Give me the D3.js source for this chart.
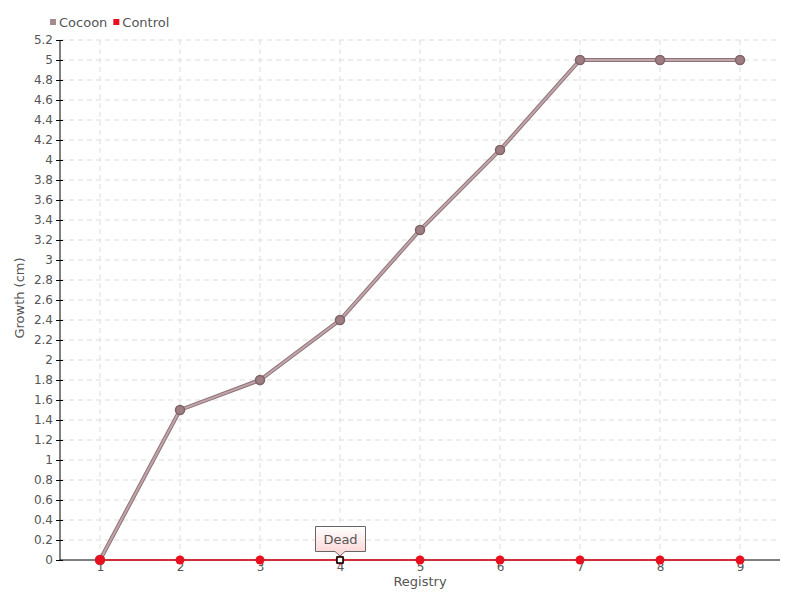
<!DOCTYPE html>
<meta charset="utf-8">
<script src="https://cdn.jsdelivr.net/npm/d3@7"></script>
<style>
body { margin: 0; background: #fff; }
svg { display: block; font-family: "DejaVu Sans", sans-serif; }
.grid line { stroke: #ddd; stroke-dasharray: 5,4; }
.axis text { fill: #555; font-size: 12px; font-family: "DejaVu Sans", sans-serif; }
.axis path, .axis line { stroke: #000; }
</style>
<body>
<div class="chart"></div>
<script>

// data
var registry = [1, 2, 3, 4, 5, 6, 7, 8, 9];
var cocoon = [0, 1.5, 1.8, 2.4, 3.3, 4.1, 5, 5, 5];
var control = [0, 0, 0, 0, 0, 0, 0, 0, 0];
var yTicks = d3.range(0, 27).map(function(i) { return +(i * 0.2).toFixed(1); });
var seriesNames = ["Cocoon", "Control"];
var seriesColors = ["#a58a8f", "#e8101f"];
var deadIndex = 3;

var width = 800, height = 600;
var margin = {top: 40, right: 20, bottom: 40, left: 60};

var svg = d3.select(".chart").append("svg")
    .attr("width", width)
    .attr("height", height);

var x = d3.scaleLinear().domain([0.5, 9.5]).range([margin.left, width - margin.right]);
var y = d3.scaleLinear().domain([0, 5.2]).range([height - margin.bottom, margin.top]);

// grid
var grid = svg.append("g").attr("class", "grid");
grid.selectAll(".hg").data(yTicks.slice(1)).enter().append("line")
    .attr("x1", margin.left).attr("x2", width - margin.right)
    .attr("y1", function(d) { return y(d); }).attr("y2", function(d) { return y(d); });
grid.selectAll(".vg").data(registry).enter().append("line")
    .attr("x1", function(d) { return x(d); }).attr("x2", function(d) { return x(d); })
    .attr("y1", y(5.2)).attr("y2", y(0));

// axes
var yAxis = svg.append("g").attr("class", "axis")
    .attr("transform", "translate(" + margin.left + ",0)")
    .call(d3.axisLeft(y).tickValues(yTicks).tickSize(4).tickPadding(3).tickFormat(function(d) { return d3.format("~g")(d); }));
yAxis.select(".domain").attr("d", "M0," + y(5.2) + "V" + y(0));
yAxis.selectAll(".tick line").attr("x1", -4).attr("x2", 3);

var xAxis = svg.append("g").attr("class", "axis")
    .attr("transform", "translate(0," + y(0) + ")")
    .call(d3.axisBottom(x).tickValues(registry).tickSize(4).tickPadding(-6));
xAxis.select(".domain").attr("d", "M" + margin.left + ",0H" + (width - margin.right));
xAxis.selectAll(".tick text").attr("dy", "0.71em").attr("y", 2);

// axis titles
svg.append("text")
    .attr("x", 420).attr("y", 586)
    .attr("text-anchor", "middle")
    .attr("fill", "#555").attr("font-size", 13)
    .text("Registry");

svg.append("text")
    .attr("transform", "translate(24," + 298 + ") rotate(-90)")
    .attr("text-anchor", "middle")
    .attr("fill", "#555").attr("font-size", 13)
    .text("Growth (cm)");

// lines
var line = d3.line()
    .x(function(d, i) { return x(registry[i]); })
    .y(function(d) { return y(d); });

svg.append("path").datum(cocoon)
    .attr("fill", "none").attr("stroke", "#8f7378").attr("stroke-width", 4)
    .attr("d", line);
svg.append("path").datum(cocoon)
    .attr("fill", "none").attr("stroke", "#c0a5aa").attr("stroke-width", 2)
    .attr("d", line);

svg.append("path").datum(control)
    .attr("fill", "none").attr("stroke", seriesColors[1]).attr("stroke-width", 1.5)
    .attr("d", line);

// points
svg.selectAll(".pc").data(cocoon).enter().append("circle")
    .attr("cx", function(d, i) { return x(registry[i]); })
    .attr("cy", function(d) { return y(d); })
    .attr("r", 4.5)
    .attr("fill", "#9e7e83").attr("stroke", "#7d6267").attr("stroke-width", 1.5);

svg.selectAll(".pr").data(control).enter().append("circle")
    .attr("cx", function(d, i) { return x(registry[i]); })
    .attr("cy", function(d) { return y(d); })
    .attr("r", function(d, i) { return i === 0 ? 5 : 4.5; })
    .attr("fill", seriesColors[1]);

// dead marker + tooltip
var dx = x(registry[deadIndex]), dy = y(control[deadIndex]);
svg.append("rect")
    .attr("x", dx - 3).attr("y", dy - 3).attr("width", 6).attr("height", 6)
    .attr("fill", "#fff").attr("stroke", "#000").attr("stroke-width", 1.5);

var defs = svg.append("defs");
var grad = defs.append("linearGradient").attr("id", "tipgrad")
    .attr("x1", 0).attr("y1", 0).attr("x2", 0).attr("y2", 1);
grad.append("stop").attr("offset", "0%").attr("stop-color", "#ffffff");
grad.append("stop").attr("offset", "100%").attr("stop-color", "#fcd2d2");

var tl = dx - 24.5, tr = dx + 25.5, tt = 526.5, tb = 551.5;
svg.append("path")
    .attr("d", "M" + tl + "," + tt + "H" + tr + "V" + tb + "H" + (dx + 5) + "L" + dx + "," + (dy - 4) + "L" + (dx - 5) + "," + tb + "H" + tl + "Z")
    .attr("fill", "url(#tipgrad)").attr("stroke", "#666").attr("stroke-width", 1);
svg.append("text")
    .attr("x", dx + 0.5).attr("y", 544)
    .attr("text-anchor", "middle")
    .attr("fill", "#555").attr("font-size", 13)
    .text("Dead");

// legend, items laid out one after another
var lx = 50;
seriesNames.forEach(function(name, i) {
  var g = svg.append("g").attr("transform", "translate(" + lx + ",22)");
  g.append("rect")
      .attr("x", 0).attr("y", -3).attr("width", 6).attr("height", 6)
      .attr("fill", seriesColors[i]);
  var t = g.append("text")
      .attr("x", 9).attr("y", 5)
      .attr("fill", "#555").attr("font-size", 13)
      .text(name);
  lx += 9 + t.node().getComputedTextLength() + 6;
});

</script>
</body>
